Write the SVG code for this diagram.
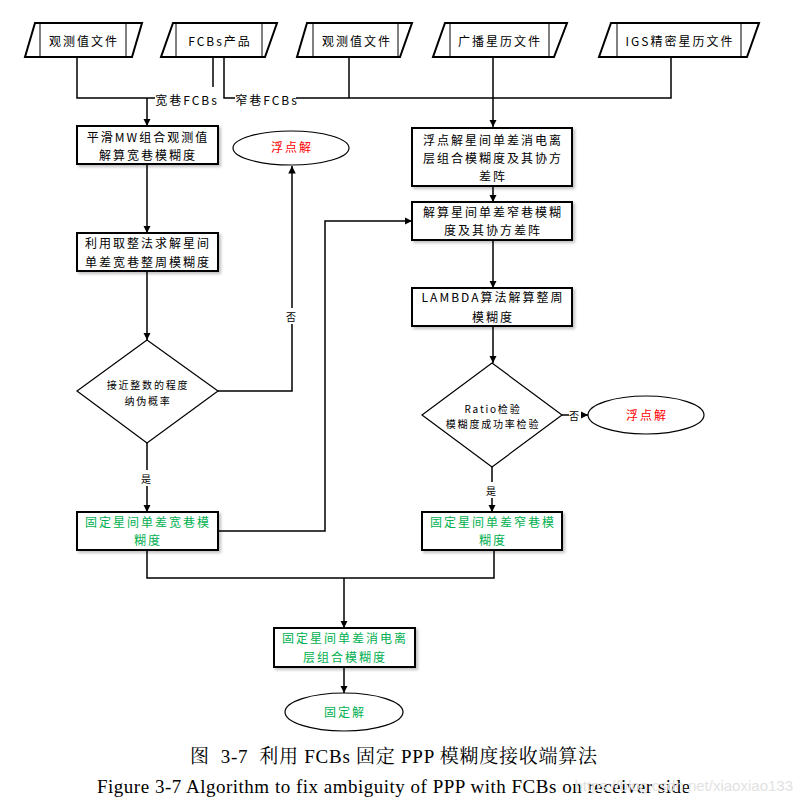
<svg xmlns="http://www.w3.org/2000/svg" width="803" height="802" viewBox="0 0 803 802">
<defs>
<marker id="arr" viewBox="0 0 10 10" refX="10" refY="5" markerWidth="5" markerHeight="5" markerUnits="strokeWidth" orient="auto">
<path d="M0,0 L10,5 L0,10 z" fill="#000"/>
</marker>
<filter id="sh" x="-10%" y="-10%" width="130%" height="140%">
<feGaussianBlur in="SourceAlpha" stdDeviation="1.5"/>
<feOffset dx="2" dy="2"/>
<feComponentTransfer><feFuncA type="linear" slope="0.25"/></feComponentTransfer>
<feMerge><feMergeNode/><feMergeNode in="SourceGraphic"/></feMerge>
</filter>
</defs>
<style>
.t{font-family:"Noto Sans CJK SC","Noto Sans",sans-serif;font-size:12px;letter-spacing:2px;fill:#000;text-anchor:middle}
.s{font-family:"Noto Sans CJK SC","Noto Sans",sans-serif;font-size:10px;letter-spacing:1.8px;fill:#000;text-anchor:middle}
.g{fill:#00b050}
.r{fill:#ff0000}
.box{fill:#fff;stroke:#000;stroke-width:2}
.pl{fill:#fff;stroke:#000;stroke-width:2}
.in{fill:none;stroke:#000;stroke-width:1}
.dm{fill:#fff;stroke:#000;stroke-width:1.2}
.el{fill:#fff;stroke:#000;stroke-width:1.2}
.c{fill:none;stroke:#000;stroke-width:1.5}
.cap{font-family:"Liberation Serif","Noto Serif CJK SC","Noto Sans CJK SC",serif;font-size:19px;fill:#000}
</style>
<rect width="803" height="802" fill="#fff"/>

<g id="connectors">
<path class="c" d="M77,57 V98 H155"/>
<path class="c" d="M147,98 V126" marker-end="url(#arr)"/>
<path class="c" d="M213,57 V87"/>
<path class="c" d="M224,57 V98 H235"/>
<path class="c" d="M296,98 H671 V57"/>
<path class="c" d="M349,57 V98"/>
<path class="c" d="M493,57 V127" marker-end="url(#arr)"/>
<path class="c" d="M147,164 V233" marker-end="url(#arr)"/>
<path class="c" d="M147,271 V340" marker-end="url(#arr)"/>
<path class="c" d="M218,391 H292 V166" marker-end="url(#arr)"/>
<path class="c" d="M147,443 V512" marker-end="url(#arr)"/>
<path class="c" d="M218,531 H325 V221 H412" stroke-width="2" marker-end="url(#arr)"/>
<path class="c" d="M493,186 V202" marker-end="url(#arr)"/>
<path class="c" d="M493,240 V288" marker-end="url(#arr)"/>
<path class="c" d="M493,326 V363" marker-end="url(#arr)"/>
<path class="c" d="M562,415 H588" marker-end="url(#arr)"/>
<path class="c" d="M492,467 V512" marker-end="url(#arr)"/>
<path class="c" d="M147,550 V578 H494 V550"/>
<path class="c" d="M344,578 V628" marker-end="url(#arr)"/>
<path class="c" d="M344,667 V693" marker-end="url(#arr)"/>
<rect x="286" y="308" width="12" height="16" fill="#fff"/>
<text class="s" x="292" y="321" letter-spacing="0">否</text>
<rect x="141" y="470" width="12" height="16" fill="#fff"/>
<text class="s" x="147" y="483" letter-spacing="0">是</text>
<rect x="486" y="482" width="12" height="16" fill="#fff"/>
<text class="s" x="492" y="495" letter-spacing="0">是</text>
<rect x="569" y="408" width="12" height="15" fill="#fff"/>
<text class="s" x="575" y="420" letter-spacing="0">否</text>
<text class="t" x="187" y="105" letter-spacing="0.3">宽巷FCBs</text>
<text class="t" x="267" y="105" letter-spacing="0.3">窄巷FCBs</text>
</g>

<g id="in1">
<polygon class="pl" points="35,23 142,23 132,57 25,57"/>
<path class="in" d="M40,23 V57 M126,23 V57"/>
<text class="t" x="84" y="46">观测值文件</text>
</g>
<g id="in2">
<polygon class="pl" points="173,23 277,23 265,57 161,57"/>
<path class="in" d="M176,23 V57 M262,23 V57"/>
<text class="t" x="220" y="46" letter-spacing="1">FCBs产品</text>
</g>
<g id="in3">
<polygon class="pl" points="307,23 412,23 400,57 297,57"/>
<path class="in" d="M313,23 V57 M398,23 V57"/>
<text class="t" x="357" y="46">观测值文件</text>
</g>
<g id="in4">
<polygon class="pl" points="445,23 567,23 554,57 433,57"/>
<path class="in" d="M450,23 V57 M549,23 V57"/>
<text class="t" x="500" y="46">广播星历文件</text>
</g>
<g id="in5">
<polygon class="pl" points="611,23 759,23 747,57 599,57"/>
<path class="in" d="M617,23 V57 M741,23 V57"/>
<text class="t" x="680" y="46">IGS精密星历文件</text>
</g>

<g id="mw">
<rect class="box" x="77" y="126" width="141" height="38" filter="url(#sh)"/>
<text class="t" x="148" y="142" letter-spacing="1.5">平滑MW组合观测值</text>
<text class="t" x="148" y="160">解算宽巷模糊度</text>
</g>
<g id="float1">
<ellipse class="el" cx="291" cy="148" rx="58" ry="17"/>
<text class="t r" x="292" y="152">浮点解</text>
</g>
<g id="round">
<rect class="box" x="77" y="233" width="141" height="38" filter="url(#sh)"/>
<text class="t" x="148" y="248">利用取整法求解星间</text>
<text class="t" x="148" y="267">单差宽巷整周模糊度</text>
</g>
<g id="dec1">
<polygon class="dm" points="147,340 218,391 147,443 77,391"/>
<text class="s" x="148" y="389">接近整数的程度</text>
<text class="s" x="148" y="405">纳伪概率</text>
</g>
<g id="fixwl">
<rect class="box" x="77" y="512" width="141" height="38" filter="url(#sh)"/>
<text class="t g" x="148" y="527">固定星间单差宽巷模</text>
<text class="t g" x="148" y="545">糊度</text>
</g>
<g id="floatif">
<rect class="box" x="412" y="128" width="160" height="58" filter="url(#sh)"/>
<text class="t" x="493" y="145">浮点解星间单差消电离</text>
<text class="t" x="493" y="163">层组合模糊度及其协方</text>
<text class="t" x="493" y="181">差阵</text>
</g>
<g id="nl">
<rect class="box" x="412" y="202" width="160" height="38" filter="url(#sh)"/>
<text class="t" x="493" y="217">解算星间单差窄巷模糊</text>
<text class="t" x="493" y="235">度及其协方差阵</text>
</g>
<g id="lambda">
<rect class="box" x="412" y="288" width="160" height="38" filter="url(#sh)"/>
<text class="t" x="493" y="302" letter-spacing="1.2">LAMBDA算法解算整周</text>
<text class="t" x="493" y="322">模糊度</text>
</g>
<g id="dec2">
<polygon class="dm" points="492,363 562,415 492,467 422,415"/>
<text class="s" x="493" y="413" letter-spacing="1">Ratio检验</text>
<text class="s" x="493" y="428">模糊度成功率检验</text>
</g>
<g id="float2">
<ellipse class="el" cx="646" cy="415" rx="58" ry="19"/>
<text class="t r" x="647" y="420">浮点解</text>
</g>
<g id="fixnl">
<rect class="box" x="422" y="512" width="140" height="38" filter="url(#sh)"/>
<text class="t g" x="493" y="527">固定星间单差窄巷模</text>
<text class="t g" x="493" y="545">糊度</text>
</g>
<g id="fixif">
<rect class="box" x="274" y="628" width="141" height="39" filter="url(#sh)"/>
<text class="t g" x="345" y="643">固定星间单差消电离</text>
<text class="t g" x="345" y="662">层组合模糊度</text>
</g>
<g id="fixed">
<ellipse class="el" cx="344" cy="712" rx="59" ry="19"/>
<text class="t g" x="345" y="717">固定解</text>
</g>

<text class="cap" x="190" y="763" textLength="407" lengthAdjust="spacing" xml:space="preserve">图  3-7  利用 FCBs 固定 PPP 模糊度接收端算法</text>
<text class="cap" x="97" y="793" textLength="593" lengthAdjust="spacing">Figure 3-7 Algorithm to fix ambiguity of PPP with FCBs on receiver side</text>
<text x="793" y="791" font-family="Liberation Sans,sans-serif" font-size="15" fill="#e2e2e2" text-anchor="end">https://blog.csdn.net/xiaoxiao133</text>
</svg>
